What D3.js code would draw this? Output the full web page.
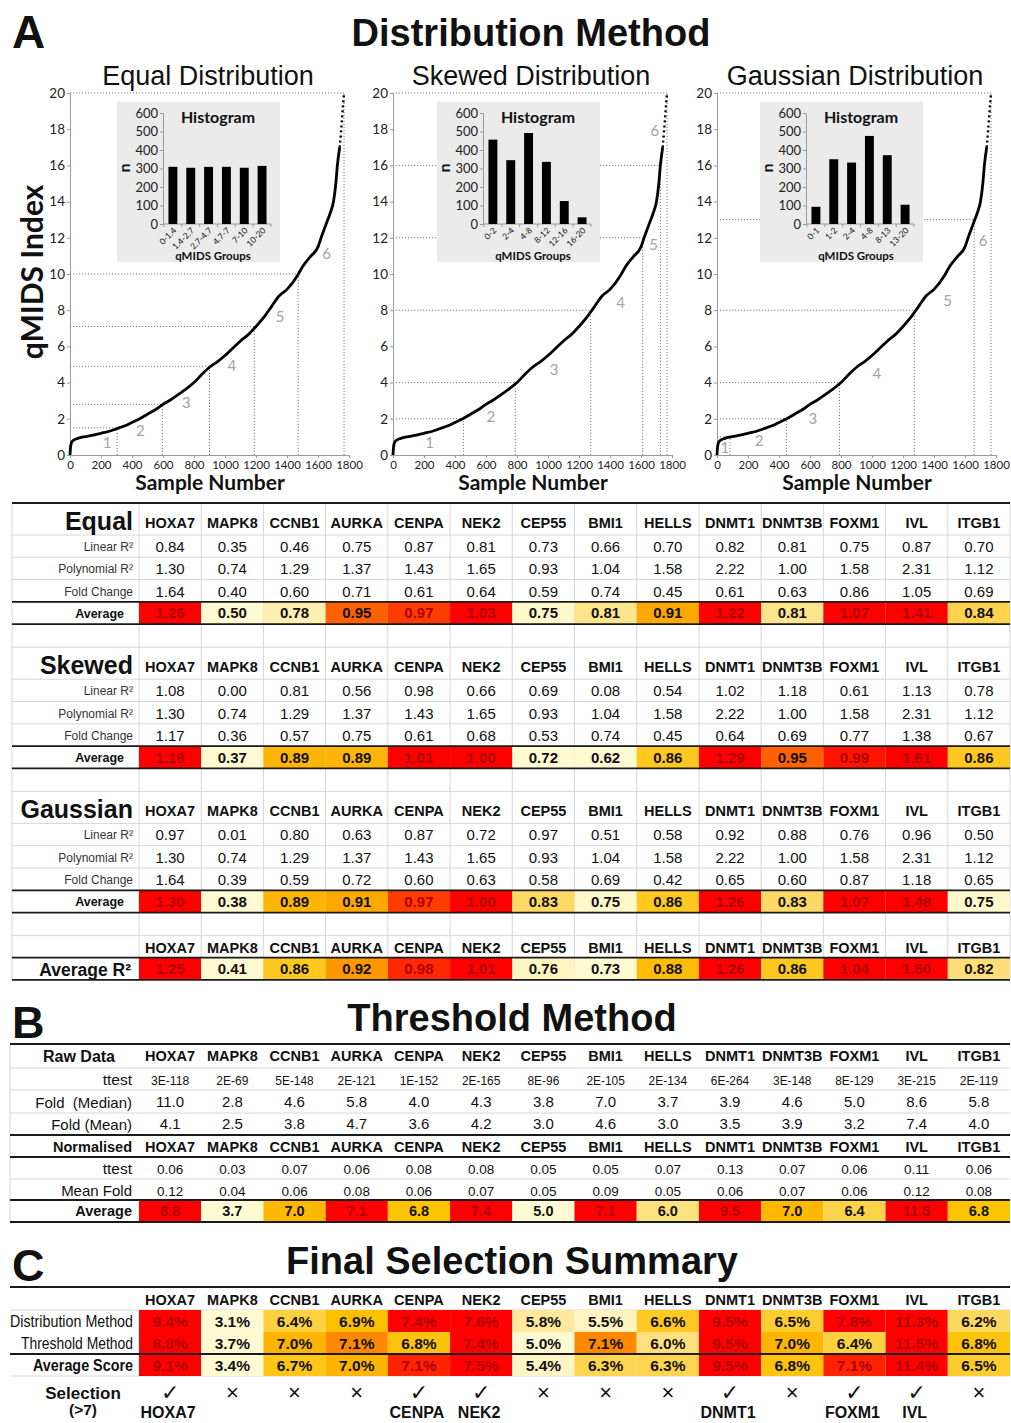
<!DOCTYPE html>
<html>
<head>
<meta charset="utf-8">
<script src="https://cdn.jsdelivr.net/npm/d3@7"></script>
<style>
  body { margin: 0; background: #fff; }
  svg { display: block; }
  .guide { stroke: #7a7a7a; stroke-width: 1; stroke-dasharray: 1.2 1.8; fill: none; }
  .ax path, .ax line { stroke: #9a9a9a; }
</style>
</head>
<body>
<svg id="fig" width="1011" height="1423"></svg>
<script>
// ---------------- data ----------------
const genes = ["HOXA7","MAPK8","CCNB1","AURKA","CENPA","NEK2","CEP55","BMI1","HELLS","DNMT1","DNMT3B","FOXM1","IVL","ITGB1"];

// sorted qMIDS index against sample number
const curveSample = [0,3,8,20,50,100,150,200,250,300,350,400,450,500,550,600,650,700,750,800,850,900,950,1000,1050,1100,1150,1200,1250,1300,1350,1400,1470,1500,1550,1600,1620,1650,1680,1700,1715,1725,1740];
const curveIndex  = [0,0.4,0.65,0.8,0.92,1.02,1.1,1.2,1.3,1.45,1.6,1.8,2.0,2.25,2.5,2.8,3.05,3.35,3.65,4.0,4.45,4.85,5.15,5.5,5.9,6.3,6.65,7.1,7.6,8.2,8.8,9.15,9.95,10.4,10.95,11.5,12.0,12.7,13.4,14.0,15.0,16.0,17.0];
// sparse top end of the ranking
const tailSample = [1740,1748,1755,1762,1768];
const tailIndex  = [17.0,17.8,18.6,19.4,20.0];

// group boundaries: qMIDS value and the sample number where the curve crosses it
const equalCutIndex   = [1.5, 2.8, 4.9, 7.1, 10.0, 20];
const equalCutSample  = [304, 596, 900, 1189, 1472, 1768];
const skewedCutIndex  = [2, 4, 8, 12, 16, 20];
const skewedCutSample = [454, 789, 1275, 1611, 1725, 1768];
const gaussCutIndex   = [1, 2, 4, 8, 13, 20];
const gaussCutSample  = [84, 448, 790, 1273, 1659, 1768];

// histogram of samples per group
const equalGroups  = ["0-1.4","1.4-2.7","2.7-4.7","4.7-7","7-10","10-20"];
const equalCounts  = [309, 304, 309, 309, 304, 314];
const skewedGroups = ["0-2","2-4","4-8","8-12","12-16","16-20"];
const skewedCounts = [456, 345, 492, 336, 124, 36];
const gaussGroups  = ["0-1","1-2","2-4","4-8","8-13","13-20"];
const gaussCounts  = [93, 350, 332, 476, 372, 104];

const xTicks = [0,200,400,600,800,1000,1200,1400,1600,1800];
const yTicks = [0,2,4,6,8,10,12,14,16,18,20];
const histTicks = [0,100,200,300,400,500,600];

// distribution method scores
const equalLinear  = [0.84,0.35,0.46,0.75,0.87,0.81,0.73,0.66,0.70,0.82,0.81,0.75,0.87,0.70];
const equalPoly    = [1.30,0.74,1.29,1.37,1.43,1.65,0.93,1.04,1.58,2.22,1.00,1.58,2.31,1.12];
const equalFold    = [1.64,0.40,0.60,0.71,0.61,0.64,0.59,0.74,0.45,0.61,0.63,0.86,1.05,0.69];
const equalAvg     = [1.26,0.50,0.78,0.95,0.97,1.03,0.75,0.81,0.91,1.22,0.81,1.07,1.41,0.84];
const skewedLinear = [1.08,0.00,0.81,0.56,0.98,0.66,0.69,0.08,0.54,1.02,1.18,0.61,1.13,0.78];
const skewedPoly   = [1.30,0.74,1.29,1.37,1.43,1.65,0.93,1.04,1.58,2.22,1.00,1.58,2.31,1.12];
const skewedFold   = [1.17,0.36,0.57,0.75,0.61,0.68,0.53,0.74,0.45,0.64,0.69,0.77,1.38,0.67];
const skewedAvg    = [1.18,0.37,0.89,0.89,1.01,1.00,0.72,0.62,0.86,1.29,0.95,0.99,1.61,0.86];
const gaussLinear  = [0.97,0.01,0.80,0.63,0.87,0.72,0.97,0.51,0.58,0.92,0.88,0.76,0.96,0.50];
const gaussPoly    = [1.30,0.74,1.29,1.37,1.43,1.65,0.93,1.04,1.58,2.22,1.00,1.58,2.31,1.12];
const gaussFold    = [1.64,0.39,0.59,0.72,0.60,0.63,0.58,0.69,0.42,0.65,0.60,0.87,1.18,0.65];
const gaussAvg     = [1.30,0.38,0.89,0.91,0.97,1.00,0.83,0.75,0.86,1.26,0.83,1.07,1.48,0.75];
const averageR2    = [1.25,0.41,0.86,0.92,0.98,1.01,0.76,0.73,0.88,1.26,0.86,1.04,1.50,0.82];

// threshold method
const rawTtest     = ["3E-118","2E-69","5E-148","2E-121","1E-152","2E-165","8E-96","2E-105","2E-134","6E-264","3E-148","8E-129","3E-215","2E-119"];
const foldMedian   = [11.0,2.8,4.6,5.8,4.0,4.3,3.8,7.0,3.7,3.9,4.6,5.0,8.6,5.8];
const foldMean     = [4.1,2.5,3.8,4.7,3.6,4.2,3.0,4.6,3.0,3.5,3.9,3.2,7.4,4.0];
const normTtest    = [0.06,0.03,0.07,0.06,0.08,0.08,0.05,0.05,0.07,0.13,0.07,0.06,0.11,0.06];
const normMeanFold = [0.12,0.04,0.06,0.08,0.06,0.07,0.05,0.09,0.05,0.06,0.07,0.06,0.12,0.08];
const thresholdAvg = [8.8,3.7,7.0,7.1,6.8,7.4,5.0,7.1,6.0,9.5,7.0,6.4,11.5,6.8];

// final selection summary (%)
const distScore    = [9.4,3.1,6.4,6.9,7.4,7.6,5.8,5.5,6.6,9.5,6.5,7.8,11.3,6.2];
const threshScore  = [8.8,3.7,7.0,7.1,6.8,7.4,5.0,7.1,6.0,9.5,7.0,6.4,11.5,6.8];
const averageScore = [9.1,3.4,6.7,7.0,7.1,7.5,5.4,6.3,6.3,9.5,6.8,7.1,11.4,6.5];
const selectionCut = 7;

// ---------------- colour ramps ----------------
const PALE = "#fffad2", RED = "#ff0000";
const heatA = d3.scaleLinear()
  .domain([0.74,0.78,0.81,0.84,0.87,0.91,0.94,0.97,1.0])
  .range([PALE,"#fff0b2","#ffe48e","#ffd350","#ffc20a","#ffa800","#ff7400","#ff3c00",RED]).clamp(true);
const heatB = d3.scaleLinear()
  .domain([5.0,6.0,6.4,6.8,7.0,7.05])
  .range([PALE,"#ffe27e","#ffd448","#ffc400","#ffb800",RED]).clamp(true);
const heatCdom = [5.0,5.5,5.8,6.2,6.5,6.9,7.0,7.1,7.3];
const heatCrng = hot => [PALE,"#fff3c0","#ffe89c","#ffd860","#ffcc30","#ffc000","#ffb400",hot,RED];
const heatC = [
  d3.scaleLinear().domain(heatCdom).range(heatCrng("#ff8800")).clamp(true),
  d3.scaleLinear().domain(heatCdom).range(heatCrng("#ff8800")).clamp(true),
  d3.scaleLinear().domain(heatCdom).range(heatCrng("#ff2400")).clamp(true)
];
const inkFor = fill => d3.rgb(fill).g < 80 ? "#b00000" : "#111";

// ---------------- helpers ----------------
const SANS = '"Liberation Sans", Arial, Helvetica, sans-serif';
const HUM  = 'Lato, "Open Sans", sans-serif';
const svg = d3.select("#fig");

function label(g, x, y, s, o = {}) {
  const t = g.append("text")
    .attr("x", x).attr("y", y)
    .attr("text-anchor", o.anchor || "middle")
    .attr("font-family", o.family || SANS)
    .attr("font-size", o.size || 14)
    .attr("font-weight", o.weight || "normal")
    .attr("fill", o.fill || "#111")
    .style("white-space", "pre")
    .text(s);
  if (o.fit) t.attr("textLength", o.fit).attr("lengthAdjust", "spacingAndGlyphs");
  return t;
}

// ---------------- panel A: ranked qMIDS curves ----------------
label(svg, 12, 48, "A", {size: 46, weight: "bold", anchor: "start"});
label(svg, 531, 46, "Distribution Method", {size: 38, weight: "bold"});

const panels = [
  {title: "Equal Distribution", x0: 70, box: 117, cutI: equalCutIndex, cutS: equalCutSample,
   groups: equalGroups, counts: equalCounts,
   tags: [[240,0.65],[454,1.35],[750,2.9],[1044,4.9],[1356,7.65],[1656,11.1]]},
  {title: "Skewed Distribution", x0: 393, box: 437, cutI: skewedCutIndex, cutS: skewedCutSample,
   groups: skewedGroups, counts: skewedCounts,
   tags: [[236,0.65],[632,2.08],[1039,4.7],[1468,8.4],[1682,11.6],[1689,17.9]]},
  {title: "Gaussian Distribution", x0: 717, box: 760, cutI: gaussCutIndex, cutS: gaussCutSample,
   groups: gaussGroups, counts: gaussCounts,
   tags: [[51,0.37],[272,0.77],[619,1.97],[1031,4.5],[1487,8.5],[1716,11.8]]}
];

const Y_TOP = 93, Y_BOT = 455, PLOT_W = 279;

panels.forEach(p => {
  const g = svg.append("g");
  const x = d3.scaleLinear().domain([0, 1800]).range([p.x0, p.x0 + PLOT_W]);
  const y = d3.scaleLinear().domain([0, 20]).range([Y_BOT, Y_TOP]);

  label(g, p.x0 + 138, 85, p.title, {size: 27});

  // dotted group boundaries
  p.cutS.forEach((s, i) => {
    const v = p.cutI[i];
    g.append("line").attr("class", "guide").attr("x1", x(0)).attr("x2", x(s)).attr("y1", y(v)).attr("y2", y(v));
    g.append("line").attr("class", "guide").attr("x1", x(s)).attr("x2", x(s)).attr("y1", y(0)).attr("y2", y(v));
  });

  // axes
  const ya = g.append("g").attr("class", "ax").attr("transform", `translate(${p.x0},0)`)
    .call(d3.axisLeft(y).tickValues(yTicks).tickSize(3).tickSizeOuter(0).tickPadding(2));
  const xa = g.append("g").attr("class", "ax").attr("transform", `translate(0,${Y_BOT})`)
    .call(d3.axisBottom(x).tickValues(xTicks).tickFormat(d3.format("d")).tickSize(3).tickSizeOuter(0).tickPadding(3));
  ya.selectAll("text").attr("font-family", HUM).attr("font-size", 13.5).attr("fill", "#222");
  xa.selectAll("text").attr("font-family", HUM).attr("font-size", 11.5).attr("fill", "#222");

  label(g, p.x0 + 140, 490, "Sample Number", {size: 21, weight: "bold", family: HUM});

  // inset histogram
  const bx = p.box, by = 102;
  g.append("rect").attr("x", bx).attr("y", by).attr("width", 163).attr("height", 160).attr("fill", "#ebebeb");
  const hx = d3.scaleBand().domain(p.groups).range([bx + 47, bx + 154]).paddingInner(0.5).paddingOuter(0.25);
  const hy = d3.scaleLinear().domain([0, 600]).range([224, 113]);
  const hya = g.append("g").attr("class", "ax").attr("transform", `translate(${bx + 46},0)`)
    .call(d3.axisLeft(hy).tickValues(histTicks).tickSize(3).tickSizeOuter(0).tickPadding(2));
  hya.selectAll("text").attr("font-family", HUM).attr("font-size", 13).attr("fill", "#222");
  g.append("line").attr("x1", bx + 46).attr("x2", bx + 154).attr("y1", 224).attr("y2", 224).attr("stroke", "#9a9a9a");
  d3.range(p.groups.length + 1).forEach(k => {
    const tx = bx + 47 + k * hx.step();
    g.append("line").attr("x1", tx).attr("x2", tx).attr("y1", 224).attr("y2", 227).attr("stroke", "#9a9a9a");
  });
  g.selectAll("rect.bar").data(p.counts).join("rect").attr("class", "bar")
    .attr("x", (d, i) => hx(p.groups[i])).attr("width", hx.bandwidth())
    .attr("y", d => hy(d)).attr("height", d => hy(0) - hy(d)).attr("fill", "#000");
  p.groups.forEach(gr => {
    const cx = hx(gr) + hx.bandwidth() / 2 + 2;
    label(g, cx, 229, gr, {size: 8.5, family: HUM, anchor: "end"})
      .attr("transform", `rotate(-45,${cx},229)`).attr("dy", "0.35em");
  });
  label(g, bx + 101, 123, "Histogram", {size: 16, weight: "bold", family: HUM});
  label(g, bx + 96, 260, "qMIDS Groups", {size: 11.5, weight: "bold", family: HUM});
  label(g, bx + 13, 168, "n", {size: 16, weight: "bold", family: HUM})
    .attr("transform", `rotate(-90,${bx + 13},168)`);

  // ranked curve
  const line = d3.line().x(d => x(d[0])).y(d => y(d[1])).curve(d3.curveMonotoneX);
  g.append("path").datum(d3.zip(curveSample, curveIndex)).attr("d", line)
    .attr("fill", "none").attr("stroke", "#000").attr("stroke-width", 2.8).attr("stroke-linejoin", "round");
  g.append("path").datum(d3.zip(tailSample, tailIndex)).attr("d", line)
    .attr("fill", "none").attr("stroke", "#000").attr("stroke-width", 2.4).attr("stroke-dasharray", "2 3");

  // group numbers
  p.tags.forEach((t, i) => {
    label(g, x(t[0]), y(t[1]) + 5, String(i + 1), {size: 15, family: HUM, fill: "#a3a3a3"});
  });
});

label(svg, 43, 272, "qMIDS Index", {size: 30, weight: "bold", family: HUM})
  .attr("transform", "rotate(-90,43,272)");

// ---------------- shared column scale ----------------
const colX = d3.scaleBand().domain(genes).range([139, 1010]);
const colC = gn => colX(gn) + colX.bandwidth() / 2;
const GRID = "#d6d6d6", RULE = "#1a1a1a";

// ---------------- panel A table ----------------
const tA = svg.append("g");
const gridA = tA.append("g"), fillA = tA.append("g"), ruleA = tA.append("g"), inkA = tA.append("g");
const thinA = [], thickA = [];
let yy = 503;
thickA.push(yy);
const RH = 22.3;

const blocksA = [
  {name: "Equal", rows: [equalLinear, equalPoly, equalFold], avg: equalAvg},
  {name: "Skewed", rows: [skewedLinear, skewedPoly, skewedFold], avg: skewedAvg},
  {name: "Gaussian", rows: [gaussLinear, gaussPoly, gaussFold], avg: gaussAvg}
];
const rowNamesA = ["Linear R²", "Polynomial R²", "Fold Change"];

function avgRowA(vals, top) {
  vals.forEach((v, i) => {
    const f = heatA(v);
    fillA.append("rect").attr("x", colX(genes[i])).attr("y", top).attr("width", colX.bandwidth()).attr("height", RH).attr("fill", f);
    label(inkA, colC(genes[i]), top + 16.5, v.toFixed(2), {size: 15, weight: "bold", fill: inkFor(f)});
  });
}

blocksA.forEach(b => {
  label(inkA, 133, yy + 27, b.name, {size: 25, weight: "bold", anchor: "end"});
  genes.forEach(gn => label(inkA, colC(gn), yy + 25, gn, {size: 14.5, weight: "bold"}));
  yy += 32; thinA.push(yy);
  b.rows.forEach((vals, r) => {
    label(inkA, 133, yy + 16, rowNamesA[r], {size: 12, anchor: "end", fill: "#333"});
    vals.forEach((v, i) => label(inkA, colC(genes[i]), yy + 17, v.toFixed(2), {size: 15}));
    yy += RH; thinA.push(yy);
  });
  thickA.push(yy);
  label(inkA, 124, yy + 16, "Average", {size: 12.5, weight: "bold", anchor: "end"});
  avgRowA(b.avg, yy);
  yy += RH; thickA.push(yy);
  yy += 23; thinA.push(yy);
});
genes.forEach(gn => label(inkA, colC(gn), yy + 17, gn, {size: 14.5, weight: "bold"}));
yy += 22; thickA.push(yy);
label(inkA, 131, yy + 18, "Average R²", {size: 17.5, weight: "bold", anchor: "end"});
avgRowA(averageR2, yy);
yy += RH; thickA.push(yy);
const bottomA = yy;

[12, ...genes.map(gn => colX(gn)), 1010].forEach(vx => {
  gridA.append("line").attr("x1", vx).attr("x2", vx).attr("y1", 503).attr("y2", bottomA).attr("stroke", GRID);
});
thinA.forEach(hy => gridA.append("line").attr("x1", 12).attr("x2", 1010).attr("y1", hy).attr("y2", hy).attr("stroke", GRID));
thickA.forEach(hy => ruleA.append("line").attr("x1", 12).attr("x2", 1010).attr("y1", hy).attr("y2", hy).attr("stroke", RULE).attr("stroke-width", 1.8));

// ---------------- panel B: threshold method ----------------
label(svg, 12, 1038, "B", {size: 45, weight: "bold", anchor: "start"});
label(svg, 512, 1031, "Threshold Method", {size: 38, weight: "bold"});

const tB = svg.append("g");
const gridB = tB.append("g"), fillB = tB.append("g"), ruleB = tB.append("g"), inkB = tB.append("g");
gridB.append("line").attr("x1", 10).attr("x2", 10).attr("y1", 1044).attr("y2", 1222).attr("stroke", GRID);
[1068, 1090, 1113, 1179].forEach(hy => gridB.append("line").attr("x1", 10).attr("x2", 1010).attr("y1", hy).attr("y2", hy).attr("stroke", GRID));
[1044, 1135, 1157, 1200, 1222].forEach(hy => ruleB.append("line").attr("x1", 10).attr("x2", 1010).attr("y1", hy).attr("y2", hy).attr("stroke", RULE).attr("stroke-width", 1.8));

label(inkB, 79, 1062, "Raw Data", {size: 16, weight: "bold"});
genes.forEach(gn => label(inkB, colC(gn), 1061, gn, {size: 14.5, weight: "bold"}));
label(inkB, 132, 1085, "ttest", {size: 15.5, anchor: "end"});
rawTtest.forEach((v, i) => label(inkB, colC(genes[i]), 1085, v, {size: 13, fit: v.length * 6.4}));
label(inkB, 132, 1108, "Fold  (Median)", {size: 15, anchor: "end"});
foldMedian.forEach((v, i) => label(inkB, colC(genes[i]), 1107, v.toFixed(1), {size: 15}));
label(inkB, 132, 1130, "Fold (Mean)", {size: 15, anchor: "end"});
foldMean.forEach((v, i) => label(inkB, colC(genes[i]), 1129, v.toFixed(1), {size: 15}));
label(inkB, 132, 1152, "Normalised", {size: 14.5, weight: "bold", anchor: "end"});
genes.forEach(gn => label(inkB, colC(gn), 1152, gn, {size: 14.5, weight: "bold"}));
label(inkB, 132, 1174, "ttest", {size: 15.5, anchor: "end"});
normTtest.forEach((v, i) => label(inkB, colC(genes[i]), 1174, v.toFixed(2), {size: 13.5}));
label(inkB, 132, 1196, "Mean Fold", {size: 15, anchor: "end"});
normMeanFold.forEach((v, i) => label(inkB, colC(genes[i]), 1196, v.toFixed(2), {size: 13.5}));
label(inkB, 132, 1216, "Average", {size: 14.5, weight: "bold", anchor: "end"});
thresholdAvg.forEach((v, i) => {
  const f = heatB(v);
  fillB.append("rect").attr("x", colX(genes[i])).attr("y", 1200).attr("width", colX.bandwidth()).attr("height", 22).attr("fill", f);
  label(inkB, colC(genes[i]), 1216, v.toFixed(1), {size: 14.5, weight: "bold", fill: inkFor(f)});
});

// ---------------- panel C: final selection ----------------
label(svg, 12, 1281, "C", {size: 45, weight: "bold", anchor: "start"});
label(svg, 512, 1274, "Final Selection Summary", {size: 38, weight: "bold"});

const tC = svg.append("g");
const gridC = tC.append("g"), fillC = tC.append("g"), ruleC = tC.append("g"), inkC = tC.append("g");
[1310, 1376].forEach(hy => gridC.append("line").attr("x1", 10).attr("x2", 1010).attr("y1", hy).attr("y2", hy).attr("stroke", GRID));
[1287, 1354].forEach(hy => ruleC.append("line").attr("x1", 10).attr("x2", 1010).attr("y1", hy).attr("y2", hy).attr("stroke", RULE).attr("stroke-width", 1.8));

genes.forEach(gn => label(inkC, colC(gn), 1305, gn, {size: 14.5, weight: "bold"}));
const rowsC = [
  {name: "Distribution Method", vals: distScore, top: 1310, bold: false, fit: 123},
  {name: "Threshold Method", vals: threshScore, top: 1332, bold: false, fit: 112},
  {name: "Average Score", vals: averageScore, top: 1354, bold: true, fit: 100}
];
rowsC.forEach((r, k) => {
  label(inkC, 133, r.top + 17, r.name, {size: 16.5, weight: r.bold ? "bold" : "normal", anchor: "end", fit: r.fit});
  r.vals.forEach((v, i) => {
    const f = heatC[k](v);
    fillC.append("rect").attr("x", colX(genes[i])).attr("y", r.top).attr("width", colX.bandwidth()).attr("height", 22).attr("fill", f);
    label(inkC, colC(genes[i]), r.top + 17, v.toFixed(1) + "%", {size: 15.5, weight: "bold", fill: inkFor(f)});
  });
});

label(inkC, 83, 1399, "Selection", {size: 17, weight: "bold"});
label(inkC, 83, 1415, "(>7)", {size: 15.5, weight: "bold"});
averageScore.forEach((v, i) => {
  const gn = genes[i];
  if (v > selectionCut) {
    label(inkC, colC(gn), 1400, "✓", {size: 22, family: '"DejaVu Sans", sans-serif'});
    label(inkC, colC(gn) - 2, 1418, gn, {size: 16, weight: "bold"});
  } else {
    label(inkC, colC(gn), 1400, "×", {size: 22});
  }
});
</script>
</body>
</html>
